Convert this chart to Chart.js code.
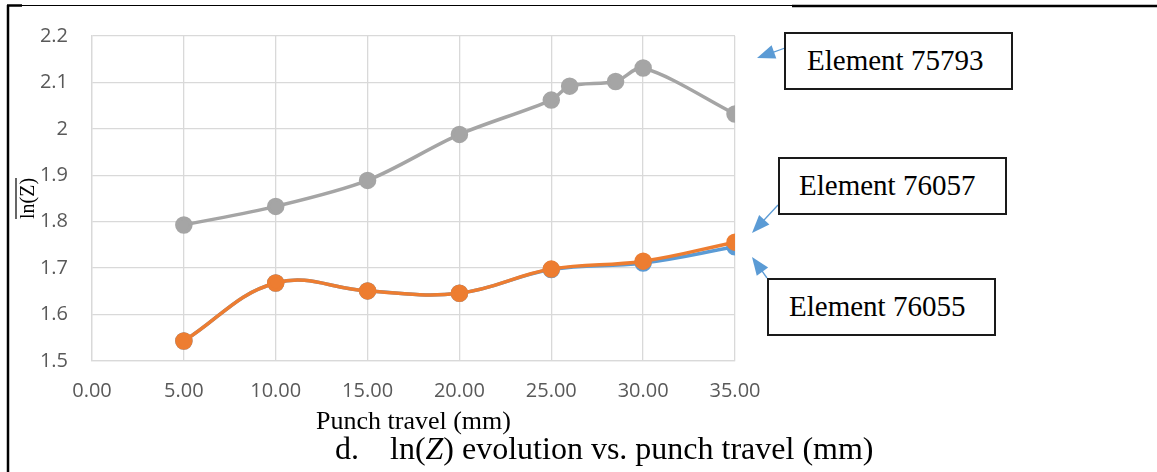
<!DOCTYPE html>
<html>
<head>
<meta charset="utf-8">
<script src="https://cdn.jsdelivr.net/npm/chart.js@4.4.1/dist/chart.umd.min.js"></script>
<style>
    body { margin: 0; background: #fff; }
    #wrap { position: relative; width: 1157px; height: 472px; overflow: hidden; }
    #lnChart { position: absolute; left: 0; top: 0; }
    .label-box {
        position: absolute; box-sizing: border-box; width: 229px; height: 58px;
        border: 2px solid #1a1a1a; background: #fff;
        font-family: "Liberation Serif", "Times New Roman", serif; font-size: 29px;
        line-height: 52px; color: #000; white-space: nowrap;
    }
    .caption {
        position: absolute; top: 432px; font-family: "Liberation Serif", "Times New Roman", serif;
        font-size: 32px; line-height: 32px; color: #000; white-space: nowrap;
    }
</style>
</head>
<body>
<div id="wrap">
    <canvas id="lnChart" width="1157" height="472"></canvas>
    <div class="label-box" style="left:784px; top:32px; padding-left:21px;">Element 75793</div>
    <div class="label-box" style="left:778px; top:157px; padding-left:19px;">Element 76057</div>
    <div class="label-box" style="left:767px; top:278px; padding-left:20px;">Element 76055</div>
    <div class="caption" style="left:335px;">d.</div>
    <div class="caption" style="left:390px;">ln(<i>Z</i>) evolution vs. punch travel (mm)</div>
</div>
<script>
// punch travel (mm)
const travel = [5, 10, 15, 20, 25, 30, 35];
const travel75793 = [5, 10, 15, 20, 25, 26, 28.5, 30, 35];

const lnZ76055 = [1.543, 1.668, 1.651, 1.646, 1.697, 1.711, 1.746];
const lnZ76057 = [1.543, 1.668, 1.651, 1.646, 1.698, 1.715, 1.756];
const lnZ75793 = [1.793, 1.833, 1.889, 1.988, 2.062, 2.092, 2.102, 2.131, 2.032];

const xTicks = [0, 5, 10, 15, 20, 25, 30, 35];
const yTicks = [1.5, 1.6, 1.7, 1.8, 1.9, 2.0, 2.1, 2.2];

function toPoints(xs, ys) {
    return xs.map((x, i) => ({ x: x, y: ys[i] }));
}

// callouts from the text boxes to the line ends
const callouts = [
    { from: [785, 48], to: [757, 58] },
    { from: [778, 205], to: [752, 233] },
    { from: [767, 278], to: [752, 257] }
];

const decorPlugin = {
    id: "decor",
    afterDraw(chart) {
        const ctx = chart.ctx;
        ctx.save();

        // page frame
        ctx.strokeStyle = "#000";
        ctx.lineWidth = 2.5;
        ctx.beginPath();
        ctx.moveTo(8, 5);
        ctx.lineTo(8, 472);
        ctx.stroke();
        ctx.lineWidth = 1.2;
        ctx.beginPath();
        ctx.moveTo(8, 5.5);
        ctx.lineTo(792, 5.5);
        ctx.stroke();
        ctx.lineWidth = 2.5;
        ctx.beginPath();
        ctx.moveTo(792, 6);
        ctx.lineTo(1157, 6);
        ctx.moveTo(7, 5.5);
        ctx.lineTo(22, 5.5);
        ctx.stroke();

        // overline on the y title
        const yScale = chart.scales.y;
        ctx.font = "20px 'Liberation Serif'";
        const w = ctx.measureText("ln(Z)").width;
        const cy = (yScale.top + yScale.bottom) / 2;
        ctx.lineWidth = 1.2;
        ctx.beginPath();
        ctx.moveTo(16, cy - w / 2);
        ctx.lineTo(16, cy + w / 2);
        ctx.stroke();

        // arrows
        ctx.strokeStyle = "#5B9BD5";
        ctx.fillStyle = "#5B9BD5";
        callouts.forEach(c => {
            const [x1, y1] = c.from;
            const [x2, y2] = c.to;
            const ang = Math.atan2(y2 - y1, x2 - x1);
            ctx.lineWidth = 1.3;
            ctx.beginPath();
            ctx.moveTo(x1, y1);
            ctx.lineTo(x2 - 14 * Math.cos(ang), y2 - 14 * Math.sin(ang));
            ctx.stroke();
            ctx.beginPath();
            ctx.moveTo(x2, y2);
            ctx.lineTo(x2 - 18 * Math.cos(ang) + 7 * Math.sin(ang), y2 - 18 * Math.sin(ang) - 7 * Math.cos(ang));
            ctx.lineTo(x2 - 18 * Math.cos(ang) - 7 * Math.sin(ang), y2 - 18 * Math.sin(ang) + 7 * Math.cos(ang));
            ctx.closePath();
            ctx.fill();
        });
        ctx.restore();
    }
};

const gridColor = "#D9D9D9";
const tickFont = { family: "'Open Sans'", size: 20 };

new Chart(document.getElementById("lnChart").getContext("2d"), {
    type: "line",
    data: {
        datasets: [
            {
                label: "Element 76055",
                data: toPoints(travel, lnZ76055),
                borderColor: "#5B9BD5",
                backgroundColor: "#5B9BD5",
                borderWidth: 3.5,
                pointRadius: 7,
                pointHoverRadius: 7,
                tension: 0.4,
                order: 3
            },
            {
                label: "Element 76057",
                data: toPoints(travel, lnZ76057),
                borderColor: "#ED7D31",
                backgroundColor: "#ED7D31",
                borderWidth: 3.5,
                pointRadius: 7,
                pointHoverRadius: 7,
                tension: 0.4,
                order: 1
            },
            {
                label: "Element 75793",
                data: toPoints(travel75793, lnZ75793),
                borderColor: "#A5A5A5",
                backgroundColor: "#A5A5A5",
                borderWidth: 3.5,
                pointRadius: 7,
                pointHoverRadius: 7,
                tension: 0.3,
                order: 2
            }
        ]
    },
    options: {
        responsive: false,
        animation: false,
        layout: { padding: { left: 0, right: 422, top: 35, bottom: 32 } },
        plugins: {
            legend: { display: false },
            tooltip: { enabled: false }
        },
        scales: {
            x: {
                type: "linear",
                min: xTicks[0],
                max: xTicks[xTicks.length - 1],
                afterBuildTicks: axis => { axis.ticks = xTicks.map(v => ({ value: v })); },
                afterFit: axis => { axis.height = 79; },
                grid: { color: gridColor, lineWidth: 1.3, drawTicks: false },
                border: { color: gridColor, width: 1.3 },
                ticks: {
                    color: "#595959",
                    font: tickFont,
                    padding: 18,
                    maxRotation: 0,
                    callback: v => Number(v).toFixed(2)
                },
                title: {
                    display: true,
                    text: "Punch travel (mm)",
                    color: "#000",
                    font: { family: "'Liberation Serif'", size: 26 },
                    padding: { top: 0, bottom: 2 }
                }
            },
            y: {
                min: yTicks[0],
                max: yTicks[yTicks.length - 1],
                afterBuildTicks: axis => { axis.ticks = yTicks.map(v => ({ value: v })); },
                afterFit: axis => { axis.width = 92; },
                grid: { color: gridColor, lineWidth: 1.3, drawTicks: false },
                border: { color: gridColor, width: 1.3 },
                ticks: {
                    color: "#595959",
                    font: tickFont,
                    padding: 24,
                    callback: v => String(Number(v.toFixed(1)))
                },
                title: {
                    display: true,
                    text: "ln(Z)",
                    color: "#000",
                    font: { family: "'Liberation Serif'", size: 20 },
                    padding: { top: 17, bottom: 0 }
                }
            }
        }
    },
    plugins: [decorPlugin]
});
</script>
</body>
</html>
